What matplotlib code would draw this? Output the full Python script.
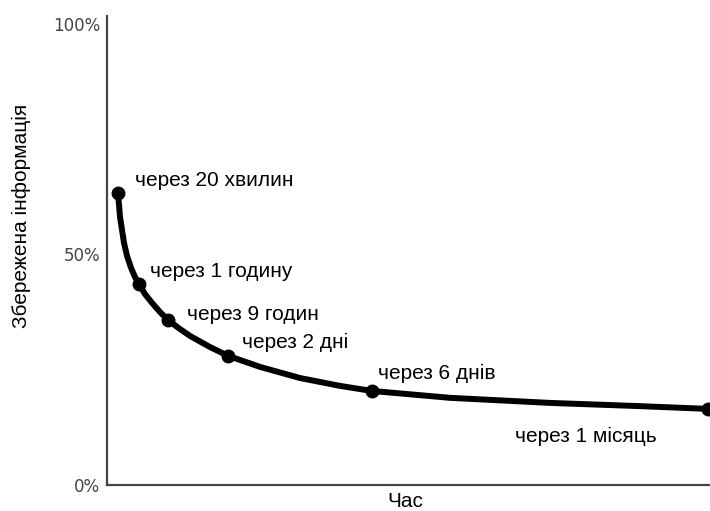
import matplotlib.pyplot as plt

# =========================
# Data
# =========================
# curve samples along the forgetting curve, x = time position (0-100), y = % retained
curve_x = [1.8, 2.0, 2.16, 2.49, 2.82, 3.32, 3.98, 4.64, 5.31, 6.3, 7.46,
           8.79, 10.1, 11.8, 13.8, 17.1, 20.1, 25.4, 32.0, 38.6, 43.9,
           56.9, 73.5, 88.4, 99.7]
curve_y = [63.3, 60.7, 58.1, 55.3, 52.5, 49.7, 47.1, 45.1, 43.6, 41.4, 39.5,
           37.5, 35.8, 34.1, 32.3, 29.9, 28.0, 25.6, 23.2, 21.5, 20.4,
           18.9, 17.8, 17.1, 16.5]

# marked points
point_x = [1.8, 5.31, 10.1, 20.1, 43.9, 99.7]
point_y = [63.3, 43.6, 35.8, 28.0, 20.4, 16.5]
point_labels = ["через 20 хвилин", "через 1 годину", "через 9 годин",
                "через 2 дні", "через 6 днів", "через 1 місяць"]

y_ticks = [0, 50, 100]
y_tick_labels = ["0%", "50%", "100%"]

# label anchor offsets in pixels (dx, dy) from each point
label_offsets = [(17, 13), (11, 12), (19, 5), (14, 13), (6, 17), (-193, -28)]

FONT = "Liberation Sans"
FS = 15

# =========================
# Plot
# =========================
fig = plt.figure(figsize=(7.10, 5.11), dpi=100)
ax = fig.add_axes([107 / 710, 26 / 511, 1 - 107 / 710, 469 / 511])

ax.plot(curve_x, curve_y, color="black", lw=4.3, solid_capstyle="round",
        solid_joinstyle="round", clip_on=False)
ax.plot(point_x, point_y, "o", color="black", ms=9, clip_on=False)

for x, y, lab, (dx, dy) in zip(point_x, point_y, point_labels, label_offsets):
    ax.annotate(lab, (x, y), xytext=(dx * 0.72, dy * 0.72),
                textcoords="offset points", fontsize=FS,
                family=FONT, va="center", ha="left")

ax.set_xlim(0, 100)
ax.set_ylim(0, 101.7)
ax.set_xticks([])
ax.set_yticks(y_ticks)
ax.set_yticklabels(y_tick_labels, family="DejaVu Sans", fontsize=12,
                   color="#444444")
ax.tick_params(axis="y", length=0, pad=5)

for side in ["top", "right"]:
    ax.spines[side].set_visible(False)
for side in ["left", "bottom"]:
    ax.spines[side].set_color("#444444")
    ax.spines[side].set_linewidth(1.6)

fig.text(21 / 710, 1 - 216 / 511, "Збережена інформація", rotation=90,
         ha="center", va="center", fontsize=FS, family=FONT)
fig.text(405 / 710, 1 - 501 / 511, "Час", ha="center", va="center",
         fontsize=FS, family=FONT)

fig.savefig("out.png", dpi=100)
